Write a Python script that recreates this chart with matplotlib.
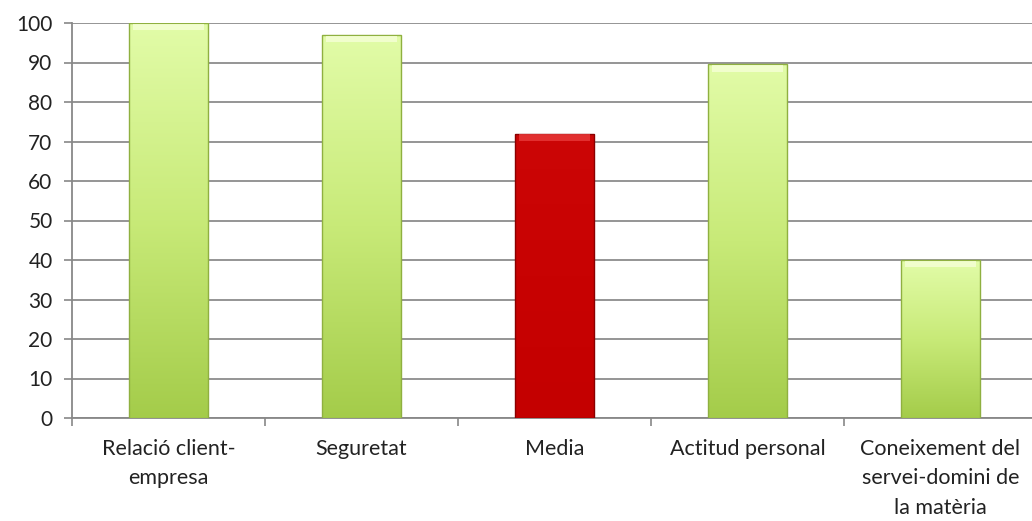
import matplotlib.pyplot as plt
import numpy as np
from matplotlib.colors import LinearSegmentedColormap

categories = ['Relació client-\nempresa', 'Seguretat', 'Media',
              'Actitud personal', 'Coneixement del\nservei-domini de\nla matèria']
values = [100, 97, 72, 89.5, 40]
highlight = [False, False, True, False, False]

plt.rcParams['font.family'] = ['Lato', 'DejaVu Sans']

fig = plt.figure(figsize=(10.32, 5.21), dpi=100)
ax = fig.add_axes([72 / 1032, 103 / 521, 965 / 1032, 395 / 521])

x = np.arange(len(categories))
bars = ax.bar(x, values, width=0.41, color='none', zorder=3)

green = LinearSegmentedColormap.from_list('g', ['#a4cc4a', '#c8ea78', '#e2fca8'])
red = LinearSegmentedColormap.from_list('r', ['#c40000', '#c80202', '#cc0606'])
grad = np.linspace(0, 1, 256).reshape(-1, 1)

for b, v, hl in zip(bars, values, highlight):
    x0 = b.get_x()
    x1 = x0 + b.get_width()
    im = ax.imshow(grad, cmap=red if hl else green, origin='lower', aspect='auto',
                   extent=(x0, x1, 0, v), zorder=3)
    im.set_clip_path(b)
    edge = '#8a0000' if hl else '#8fb040'
    ax.add_patch(plt.Rectangle((x0, 0), x1 - x0, v, fill=False, ec=edge,
                               lw=1.0, zorder=4))
    # bevel strip across the top
    top = '#e83a3a' if hl else '#f6ffd8'
    ax.add_patch(plt.Rectangle((x0 + 0.02, v - 1.8), x1 - x0 - 0.04, 1.6,
                               color=top, lw=0, alpha=0.8, zorder=4))

ax.set_xlim(-0.5, len(categories) - 0.5)
ax.set_ylim(0, 100)
ax.set_yticks(range(0, 101, 10))
ax.set_xticks(np.arange(-0.5, len(categories), 1.0))
ax.set_xticklabels([])
ax.set_xticks(x, minor=True)
ax.set_xticklabels(categories, minor=True, fontsize=15.5, color='#222222',
                   linespacing=1.6)
ax.tick_params(axis='x', which='minor', length=0, pad=15)
ax.tick_params(axis='x', which='major', length=6, color='#888888', width=1.2)
ax.tick_params(axis='y', length=6, color='#888888', width=1.2, labelsize=15,
               labelcolor='#222222', pad=8)

ax.grid(axis='y', color='#8c8c8c', lw=1.3, zorder=0)
for s in ['top', 'right']:
    ax.spines[s].set_visible(False)
for s in ['left', 'bottom']:
    ax.spines[s].set_color('#888888')
    ax.spines[s].set_linewidth(1.3)

fig.savefig('out.png', dpi=100)
